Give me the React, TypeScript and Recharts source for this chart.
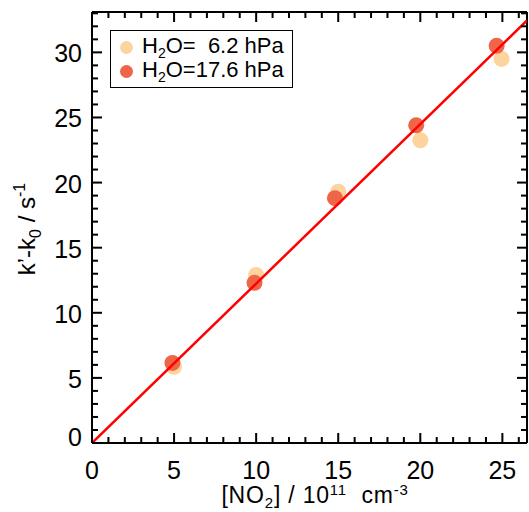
import { ScatterChart, Scatter, XAxis, YAxis } from "recharts";

// values
const NO2_LOW = [5.0, 10.0, 15.0, 20.0, 24.95];
const K_LOW = [5.85, 12.9, 19.3, 23.25, 29.5];
const NO2_HIGH = [4.9, 9.9, 14.8, 19.75, 24.65];
const K_HIGH = [6.15, 12.3, 18.8, 24.4, 30.5];
const FIT_X = [0, 26.5];
const FIT_Y = [0, 32.45];

const SERIES_NAMES = ["6.2 hPa", "17.6 hPa"];
const SERIES_SEP = ["O=  ", "O="];
const SERIES_COLORS = ["#fdd49e", "#ef6548"];

const X_TICKS = Array.from({ length: 27 }, (_, i) => i);
const Y_TICKS = Array.from({ length: 34 }, (_, i) => i);

const FONT = "'Liberation Sans', Arial, Helvetica, sans-serif";
const TICK_COLOR = "#000";

const low = NO2_LOW.map((x, i) => ({ x, y: K_LOW[i] }));
const high = NO2_HIGH.map((x, i) => ({ x, y: K_HIGH[i] }));
const fit = FIT_X.map((x, i) => ({ x, y: FIT_Y[i] }));

const isMajor = (v: number) => v % 5 === 0;
const tickLen = (v: number) => (isMajor(v) ? 10 : 6);

// ticks point inward on all four sides
const bottomTick = (p: any) => {
  const v = p.payload.value;
  const x = Number(p.x);
  const y = Number(p.y);
  return (
    <g key={`b${v}`}>
      <rect x={x - 1} y={y - tickLen(v)} width={2} height={tickLen(v)} fill={TICK_COLOR} />
      {isMajor(v) && (
        <text x={x} y={y + 36} textAnchor="middle" fontSize={25} fontFamily={FONT} fill="#000">
          {v}
        </text>
      )}
    </g>
  );
};

const topTick = (p: any) => {
  const v = p.payload.value;
  const x = Number(p.x);
  const y = Number(p.y);
  return <rect key={`t${v}`} x={x - 1} y={y} width={2} height={tickLen(v)} fill={TICK_COLOR} />;
};

const leftTick = (p: any) => {
  const v = p.payload.value;
  const x = Number(p.x);
  const y = Number(p.y);
  return (
    <g key={`l${v}`}>
      <rect x={x} y={y - 1} width={tickLen(v)} height={2} fill={TICK_COLOR} />
      {isMajor(v) && (
        <text x={x - 10} y={v === 0 ? y + 3 : y + 10} textAnchor="end" fontSize={25} fontFamily={FONT} fill="#000">
          {v}
        </text>
      )}
    </g>
  );
};

const rightTick = (p: any) => {
  const v = p.payload.value;
  const x = Number(p.x);
  const y = Number(p.y);
  return <rect key={`r${v}`} x={x - tickLen(v)} y={y - 1} width={tickLen(v)} height={2} fill={TICK_COLOR} />;
};

function LegendBox() {
  return (
    <div
      style={{
        position: "absolute",
        left: 110,
        top: 30,
        boxSizing: "border-box",
        width: 183,
        height: 58,
        border: "1.5px solid #000",
        background: "#fff",
        padding: "4px 0 0 9px",
        fontFamily: FONT,
        fontSize: 22,
        lineHeight: "24px",
        color: "#000",
      }}
    >
      {SERIES_NAMES.map((name, i) => (
        <div key={name} style={{ display: "flex", alignItems: "center", whiteSpace: "pre", height: 24 }}>
          <span
            style={{
              width: 13,
              height: 13,
              borderRadius: "50%",
              background: SERIES_COLORS[i],
              marginRight: 9,
              flexShrink: 0,
            }}
          />
          <span>
            H<span style={{ fontSize: 14, position: "relative", top: 5 }}>2</span>
            {SERIES_SEP[i]}
            {name}
          </span>
        </div>
      ))}
    </div>
  );
}

function AxisTitles() {
  return (
    <svg width={529} height={512} style={{ position: "absolute", left: 0, top: 0, pointerEvents: "none" }}>
      <text x={315} y={503} textAnchor="middle" fontSize={23} letterSpacing={0.8} fontFamily={FONT} fill="#000" style={{ whiteSpace: "pre" }}>
        [NO<tspan fontSize={15} dy={5}>2</tspan>
        <tspan dy={-5}>] / 10</tspan>
        <tspan fontSize={15} dy={-8}>11</tspan>
        <tspan dy={8}>  cm</tspan>
        <tspan fontSize={15} dy={-8}>-3</tspan>
      </text>
      <text
        transform="translate(35, 229) rotate(-90)"
        textAnchor="middle"
        fontSize={24}
        fontFamily={FONT}
        fill="#000"
        style={{ whiteSpace: "pre" }}
      >
        k’-k<tspan fontSize={16} dy={6}>0</tspan>
        <tspan dy={-6}> / s</tspan>
        <tspan fontSize={16} dy={-10}>-1</tspan>
      </text>
    </svg>
  );
}

const dot = (color: string) => (p: any) => <circle cx={p.cx} cy={p.cy} r={8} fill={color} />;

export default function App() {
  return (
    <div style={{ position: "absolute", left: 0, top: 0, width: 529, height: 512, background: "#fff" }}>
      <AxisTitles />
      <LegendBox />
      <div style={{ position: "absolute", left: 0, top: 0 }}>
        <ScatterChart width={529} height={512} margin={{ top: 0, right: 0, bottom: 0, left: 0 }}>
          <XAxis
            dataKey="x"
            type="number"
            domain={[0, 26.5]}
            ticks={X_TICKS}
            interval={0}
            allowDataOverflow
            height={69}
            tickSize={0}
            tickMargin={0}
            tickLine={false}
            tick={bottomTick}
            axisLine={{ stroke: "#000", strokeWidth: 2 }}
          />
          <XAxis
            xAxisId="top"
            dataKey="x"
            orientation="top"
            type="number"
            domain={[0, 26.5]}
            ticks={X_TICKS}
            interval={0}
            allowDataOverflow
            height={12}
            tickSize={0}
            tickMargin={0}
            tickLine={false}
            tick={topTick}
            axisLine={{ stroke: "#000", strokeWidth: 2 }}
          />
          <YAxis
            dataKey="y"
            type="number"
            domain={[0, 33.1]}
            ticks={Y_TICKS}
            interval={0}
            allowDataOverflow
            width={92}
            tickSize={0}
            tickMargin={0}
            tickLine={false}
            tick={leftTick}
            axisLine={{ stroke: "#000", strokeWidth: 2 }}
          />
          <YAxis
            yAxisId="right"
            dataKey="y"
            orientation="right"
            type="number"
            domain={[0, 33.1]}
            ticks={Y_TICKS}
            interval={0}
            allowDataOverflow
            width={2}
            tickSize={0}
            tickMargin={0}
            tickLine={false}
            tick={rightTick}
            axisLine={{ stroke: "#000", strokeWidth: 2 }}
          />
          <Scatter name={SERIES_NAMES[0]} data={low} fill={SERIES_COLORS[0]} shape={dot(SERIES_COLORS[0])} isAnimationActive={false} />
          <Scatter name={SERIES_NAMES[1]} data={high} fill={SERIES_COLORS[1]} shape={dot(SERIES_COLORS[1])} isAnimationActive={false} />
          <Scatter
            name="fit"
            data={fit}
            xAxisId="top"
            yAxisId="right"
            line={{ stroke: "#ff0000", strokeWidth: 2.5 }}
            shape={() => <g />}
            legendType="none"
            isAnimationActive={false}
          />
        </ScatterChart>
      </div>
    </div>
  );
}
